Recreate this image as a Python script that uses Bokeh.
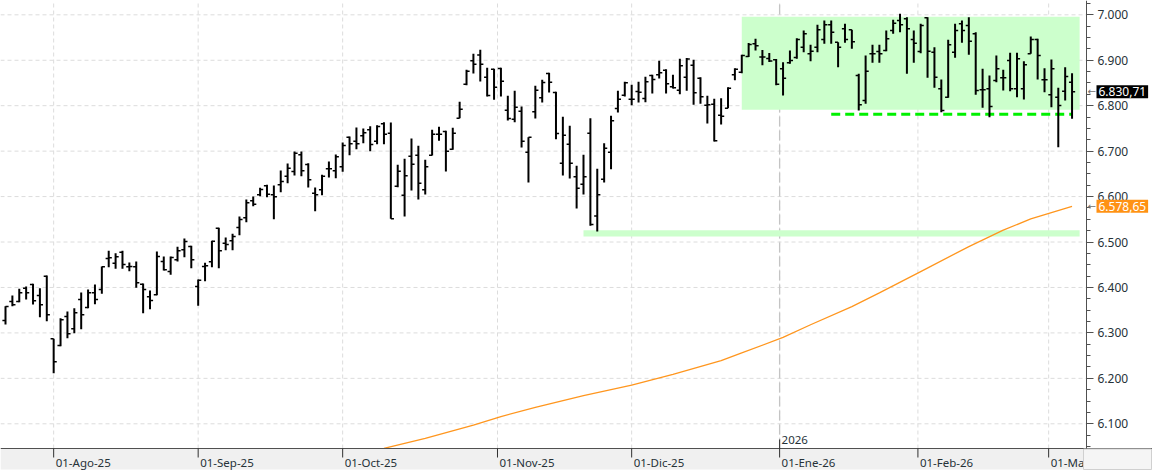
from bokeh.plotting import figure
from bokeh.models import Range1d, FixedTicker, CustomJSTickFormatter, Label
from bokeh.embed import file_html
from bokeh.resources import INLINE
from bokeh.core.properties import value

# ---------------- data ----------------
opens = [6327.3, 6369.1, 6369.1, 6398.5, 6406.5, 6382.3, 6424.9, 6287.0, 6272.3, 6336.1,
         6309.0, 6373.5, 6355.9, 6388.2, 6395.6, 6463.8, 6453.5, 6477.7, 6445.4, 6445.4,
         6407.3, 6379.4, 6383.8, 6457.2, 6435.1, 6460.8, 6482.8, 6490.2, 6402.1, 6446.1,
         6456.4, 6530.5, 6497.5, 6502.6, 6531.9, 6553.2, 6590.6, 6603.8, 6623.6, 6603.8,
         6625.8, 6644.9, 6655.2, 6691.8, 6670.6, 6607.5, 6614.8, 6661.0, 6656.6, 6665.4,
         6730.7, 6721.9, 6733.6, 6746.8, 6721.9, 6760.1, 6739.5, 6623.0, 6603.2, 6689.0,
         6691.2, 6614.9, 6691.2, 6737.4, 6743.3, 6704.4, 6772.6, 6847.4, 6898.8, 6911.3,
         6862.8, 6880.4, 6881.9, 6790.2, 6770.4, 6788.0, 6697.8, 6786.6, 6817.4, 6870.9,
         6829.1, 6673.6, 6715.4, 6643.5, 6627.4, 6739.6, 6557.0, 6638.4, 6697.8, 6793.9,
         6823.2, 6814.4, 6831.3, 6815.9, 6866.5, 6868.0, 6878.2, 6841.6, 6834.2, 6862.8,
         6889.2, 6860.6, 6801.2, 6803.4, 6779.2, 6794.6, 6868.0, 6873.8, 6908.3, 6936.2,
         6906.9, 6903.9, 6901.0, 6881.1, 6894.3, 6906.1, 6928.8, 6914.1, 6928.8, 6945.7,
         6978.0, 6939.8, 6969.2, 6967.0, 6866.5, 6811.5, 6914.1, 6919.3, 6921.5, 6965.5,
         6987.5, 6991.2, 6945.7, 6919.3, 6993.4, 6917.8, 6837.1, 6818.8, 6917.8, 6980.2,
         6976.5, 6958.2, 6834.9, 6837.1, 6855.5, 6861.3, 6899.5, 6837.1, 6837.1, 6914.1,
         6945.7, 6856.9, 6823.9, 6818.8, 6832.0, 6851.8]
highs = [6358.9, 6382.3, 6397.0, 6402.1, 6408.0, 6398.5, 6426.4, 6287.0, 6332.5, 6347.1,
         6354.5, 6388.9, 6395.6, 6406.5, 6446.2, 6480.6, 6475.5, 6480.6, 6455.0, 6457.2,
         6408.7, 6393.4, 6479.2, 6468.2, 6468.2, 6489.4, 6507.8, 6491.6, 6417.5, 6454.2,
         6502.6, 6531.2, 6509.9, 6518.0, 6556.1, 6593.5, 6600.1, 6619.2, 6625.8, 6624.4,
         6657.4, 6672.8, 6699.2, 6699.2, 6673.5, 6620.0, 6647.8, 6677.2, 6692.6, 6719.0,
         6732.2, 6752.0, 6749.8, 6754.9, 6757.1, 6763.7, 6763.0, 6669.9, 6683.1, 6727.9,
         6711.7, 6680.9, 6747.0, 6753.5, 6744.7, 6751.4, 6808.6, 6879.0, 6914.2, 6923.0,
         6883.4, 6881.2, 6883.4, 6821.8, 6832.8, 6798.3, 6730.8, 6843.8, 6857.0, 6872.4,
         6830.6, 6775.6, 6755.8, 6667.7, 6691.9, 6772.6, 6661.1, 6717.6, 6777.8, 6832.8,
         6852.6, 6846.0, 6852.6, 6863.6, 6868.0, 6898.8, 6880.4, 6868.0, 6903.2, 6904.7,
         6901.0, 6862.8, 6821.8, 6815.2, 6816.6, 6840.8, 6882.6, 6912.0, 6937.7, 6947.2,
         6922.3, 6915.7, 6902.5, 6895.8, 6921.5, 6948.6, 6965.5, 6934.0, 6978.0, 6987.5,
         6987.5, 6939.8, 6980.2, 6967.0, 6870.1, 6910.5, 6934.0, 6934.0, 6965.5, 6989.0,
         7002.2, 6994.8, 6965.5, 6980.2, 6994.8, 6928.8, 6857.7, 6945.0, 6980.2, 6987.5,
         6994.8, 6961.8, 6881.1, 6866.5, 6910.5, 6878.9, 6916.3, 6916.3, 6898.0, 6952.3,
         6947.2, 6882.6, 6901.7, 6839.3, 6884.8, 6871.6]
lows = [6318.5, 6358.9, 6367.7, 6373.5, 6362.5, 6334.7, 6325.9, 6211.4, 6270.8, 6288.5,
        6299.5, 6308.3, 6354.5, 6363.3, 6386.0, 6444.7, 6441.0, 6441.0, 6435.9, 6399.2,
        6343.5, 6352.3, 6383.1, 6437.4, 6427.8, 6457.2, 6466.7, 6442.5, 6359.6, 6413.8,
        6444.6, 6442.4, 6482.1, 6482.1, 6515.1, 6543.7, 6578.9, 6600.9, 6598.7, 6550.3,
        6609.7, 6629.5, 6646.4, 6644.9, 6620.0, 6567.9, 6603.1, 6642.0, 6640.5, 6654.4,
        6691.1, 6704.3, 6717.5, 6699.9, 6715.3, 6715.3, 6551.0, 6620.8, 6556.2, 6613.5,
        6593.6, 6604.6, 6690.5, 6722.7, 6655.3, 6703.0, 6772.6, 6845.2, 6870.9, 6853.3,
        6820.3, 6813.0, 6820.3, 6767.5, 6763.8, 6708.1, 6631.1, 6771.9, 6807.1, 6829.1,
        6726.4, 6646.5, 6639.9, 6573.8, 6604.6, 6535.7, 6523.2, 6631.1, 6660.4, 6785.1,
        6820.3, 6801.2, 6807.1, 6807.8, 6826.9, 6859.9, 6826.9, 6837.9, 6825.4, 6832.8,
        6802.0, 6804.2, 6760.9, 6721.3, 6758.7, 6794.6, 6856.2, 6871.6, 6906.9, 6921.5,
        6889.2, 6895.9, 6845.2, 6822.5, 6892.1, 6903.1, 6917.8, 6898.0, 6917.8, 6936.1,
        6936.1, 6884.8, 6938.3, 6925.1, 6789.4, 6804.1, 6894.3, 6894.3, 6920.0, 6958.2,
        6961.8, 6870.1, 6894.3, 6915.6, 6861.3, 6839.3, 6785.8, 6817.3, 6905.3, 6938.3,
        6911.9, 6823.9, 6795.3, 6774.8, 6851.8, 6833.5, 6832.0, 6818.8, 6813.7, 6914.1,
        6857.7, 6829.8, 6796.8, 6708.8, 6811.5, 6771.1]
closes = [6358.1, 6361.8, 6388.2, 6388.2, 6370.6, 6361.8, 6339.8, 6236.4, 6328.8, 6298.0,
          6344.2, 6339.8, 6388.2, 6373.5, 6445.4, 6465.2, 6467.4, 6450.6, 6446.2, 6410.2,
          6395.6, 6371.3, 6468.2, 6438.8, 6466.0, 6480.6, 6501.2, 6460.8, 6416.1, 6447.6,
          6501.9, 6480.6, 6494.5, 6512.1, 6549.5, 6586.2, 6583.3, 6615.5, 6605.3, 6599.4,
          6633.2, 6662.5, 6695.5, 6656.6, 6636.8, 6603.8, 6644.9, 6661.0, 6687.4, 6712.4,
          6716.0, 6716.0, 6740.2, 6714.6, 6754.2, 6737.3, 6551.0, 6656.0, 6645.7, 6671.4,
          6629.6, 6665.5, 6737.4, 6737.4, 6700.0, 6739.6, 6792.4, 6876.0, 6891.4, 6891.4,
          6822.5, 6840.8, 6854.0, 6771.9, 6796.8, 6722.0, 6730.8, 6834.2, 6851.1, 6851.8,
          6738.9, 6735.2, 6673.6, 6618.6, 6643.5, 6538.6, 6603.9, 6706.6, 6766.8, 6814.4,
          6850.4, 6814.4, 6829.8, 6852.6, 6857.7, 6872.4, 6848.2, 6839.4, 6887.8, 6902.5,
          6828.4, 6819.6, 6802.0, 6722.7, 6777.0, 6838.6, 6880.4, 6910.5, 6934.7, 6931.8,
          6906.9, 6898.1, 6847.4, 6860.6, 6899.5, 6945.7, 6958.2, 6920.0, 6967.0, 6978.0,
          6961.8, 6928.8, 6945.7, 6940.5, 6801.9, 6876.0, 6914.1, 6914.1, 6947.2, 6981.6,
          6978.0, 6969.2, 6937.6, 6976.5, 6920.0, 6862.8, 6789.5, 6934.0, 6965.5, 6965.5,
          6942.0, 6833.5, 6834.9, 6798.2, 6881.1, 6861.3, 6837.1, 6903.1, 6889.9, 6945.7,
          6910.5, 6856.9, 6881.1, 6800.4, 6864.3, 6830.71]

# 200-session moving average, read at a few sessions
ma_idx = [55, 61, 68, 72, 77, 84, 91, 97, 104, 107, 113, 117, 123, 127, 133, 140, 145, 149, 155]
ma_val = [6046, 6068, 6097, 6116, 6136, 6162, 6185, 6209, 6239, 6256, 6290, 6318, 6358, 6388,
          6435, 6490, 6526, 6551, 6578.65]

month_labels = ["01-Ago-25", "01-Sep-25", "01-Oct-25", "01-Nov-25", "01-Dic-25",
                "01-Ene-26", "01-Feb-26", "01-Mar-26"]
month_pos = [7.0, 28.0, 49.0, 71.5, 91.0, 112.5, 132.6, 151.6]
year_label = "2026"
year_pos = 112.5

y_ticks = [6100, 6200, 6300, 6400, 6500, 6600, 6700, 6800, 6900, 7000]

# drawn zones
range_left, range_right, range_bottom, range_top = 107, 156.1, 6791, 6996
support_level, support_start, support_end = 6781, 120, 155
floor_left, floor_right, floor_bottom, floor_top = 84, 156.1, 6512, 6526

# ---------------- layout ----------------
W, H = 1152, 471
AXPX = 1086                      # pixel column of the price scale
X_LO, X_AXIS = -0.727, 157.1     # data x at left edge and at the price scale
Y_TOP, Y_BOT = 7031.5, 5995.0
XU = (X_AXIS - X_LO) / AXPX      # data units per pixel
X_R = X_LO + W * XU


def ydat(py):
    return Y_TOP - py * (Y_TOP - Y_BOT) / H


def xdat(px):
    return X_LO + px * XU


def es_fmt(v):
    return f"{v:,.2f}".replace(",", "X").replace(".", ",").replace("X", ".")


FONT = "Noto Sans"
TXT = "#263238"
FS = "11.5px"

p = figure(width=W, height=H, output_backend="svg", toolbar_location=None,
           x_range=Range1d(X_LO, X_R), y_range=Range1d(Y_BOT, Y_TOP),
           x_axis_location=None, y_axis_location="right",
           min_border_left=0, min_border_top=0, min_border_bottom=0, min_border_right=0)
p.outline_line_color = None
p.background_fill_color = "white"
p.border_fill_color = "white"
p.xgrid.visible = False
p.ygrid.visible = False

# price scale (real axis, pinned at the scale column)
ax = p.yaxis[0]
ax.fixed_location = X_AXIS
ax.ticker = FixedTicker(ticks=y_ticks, minor_ticks=list(range(6050, 7026, 25)))
ax.formatter = CustomJSTickFormatter(code="return Math.round(tick).toString().replace(/\\B(?=(\\d{3})+(?!\\d))/g, '.');")
ax.bounds = (ydat(448), Y_TOP)
ax.axis_line_color = "#505050"
ax.major_tick_line_color = "#505050"
ax.minor_tick_line_color = "#505050"
ax.major_tick_in = 0
ax.major_tick_out = 7
ax.minor_tick_in = 0
ax.minor_tick_out = 4
ax.major_label_standoff = 4
ax.major_label_text_font = FONT
ax.major_label_text_font_size = "12px"
ax.major_label_text_color = TXT

# grid lines
ny = len(y_ticks)
p.segment(x0=[X_LO] * ny, y0=y_ticks, x1=[X_AXIS] * ny, y1=y_ticks,
          line_color="#dcdcdc", line_dash="4 3", line_width=1)
n = len(month_pos)
p.segment(x0=month_pos, y0=[ydat(448)] * n, x1=month_pos, y1=[Y_TOP] * n,
          line_color="#dcdcdc", line_dash="4 3", line_width=1)
# year separator
p.segment(x0=[year_pos], y0=[ydat(448)], x1=[year_pos], y1=[Y_TOP],
          line_color="#c4c4c4", line_dash="10 4", line_width=1.3)

# zones
p.quad(left=[range_left], right=[range_right], bottom=[range_bottom], top=[range_top],
       fill_color="#ccffcc", line_color=None)
p.quad(left=[floor_left], right=[floor_right], bottom=[floor_bottom], top=[floor_top],
       fill_color="#ccffcc", line_color=None)
p.segment(x0=[support_start], y0=[support_level], x1=[support_end], y1=[support_level],
          line_color="#00f000", line_width=3, line_dash="9 5")

# moving average
p.line(ma_idx, ma_val, line_color="#ff961e", line_width=1.3)

# OHLC bars
idx = list(range(len(opens)))
TICK = 0.45
p.segment(x0=idx, y0=lows, x1=idx, y1=highs, line_color="black", line_width=2)
p.segment(x0=[i - TICK for i in idx], y0=opens, x1=idx, y1=opens, line_color="black", line_width=1.5)
p.segment(x0=idx, y0=closes, x1=[i + TICK for i in idx], y1=closes, line_color="black", line_width=1.5)

# bottom time band
p.quad(left=[X_LO], right=[X_R], bottom=[ydat(469)], top=[ydat(448)],
       fill_color="#f0f0f0", line_color=None)
p.segment(x0=[X_LO], y0=[ydat(448)], x1=[X_R], y1=[ydat(448)], line_color="#505050", line_width=1)
p.segment(x0=month_pos, y0=[ydat(448)] * n, x1=month_pos, y1=[ydat(457)] * n,
          line_color="#303030", line_width=1)
p.text(x=month_pos, y=[ydat(461.5)] * n, text=month_labels, x_offset=2,
       text_font=value(FONT), text_font_size=FS, text_color=TXT,
       text_align="left", text_baseline="middle")
# corner box of the time band (clips the last label like the reference)
p.quad(left=[xdat(AXPX - 3)], right=[xdat(W - 1)], bottom=[ydat(469)], top=[ydat(448.5)],
       fill_color="#f5f5f5", fill_alpha=1.0, line_color="#d0d0d0", line_width=1, level="guide")
# year marker
p.segment(x0=[year_pos], y0=[ydat(448)], x1=[year_pos], y1=[ydat(439)], line_color="#303030", line_width=1)
p.text(x=[year_pos], y=[ydat(439)], text=[year_label], x_offset=2,
       text_font=value(FONT), text_font_size=FS, text_color=TXT,
       text_align="left", text_baseline="middle")

# last-value tags on the price scale
last_close = closes[-1]
last_ma = ma_val[-1]
for val, bg in ((last_close, "black"), (last_ma, "#ff9214")):
    p.add_layout(Label(x=xdat(AXPX + 1), y=val, text="\u2190",
                       text_font="DejaVu Sans", text_font_size="10px", text_color="#707070",
                       text_baseline="middle", text_align="left"))
    p.add_layout(Label(x=xdat(AXPX + 10), y=val, text=es_fmt(val),
                       text_font=FONT, text_font_size="12px", text_color="white",
                       text_baseline="middle", text_align="left",
                       background_fill_color=bg, padding=2))

open("out.html", "w").write(file_html(p, INLINE))
